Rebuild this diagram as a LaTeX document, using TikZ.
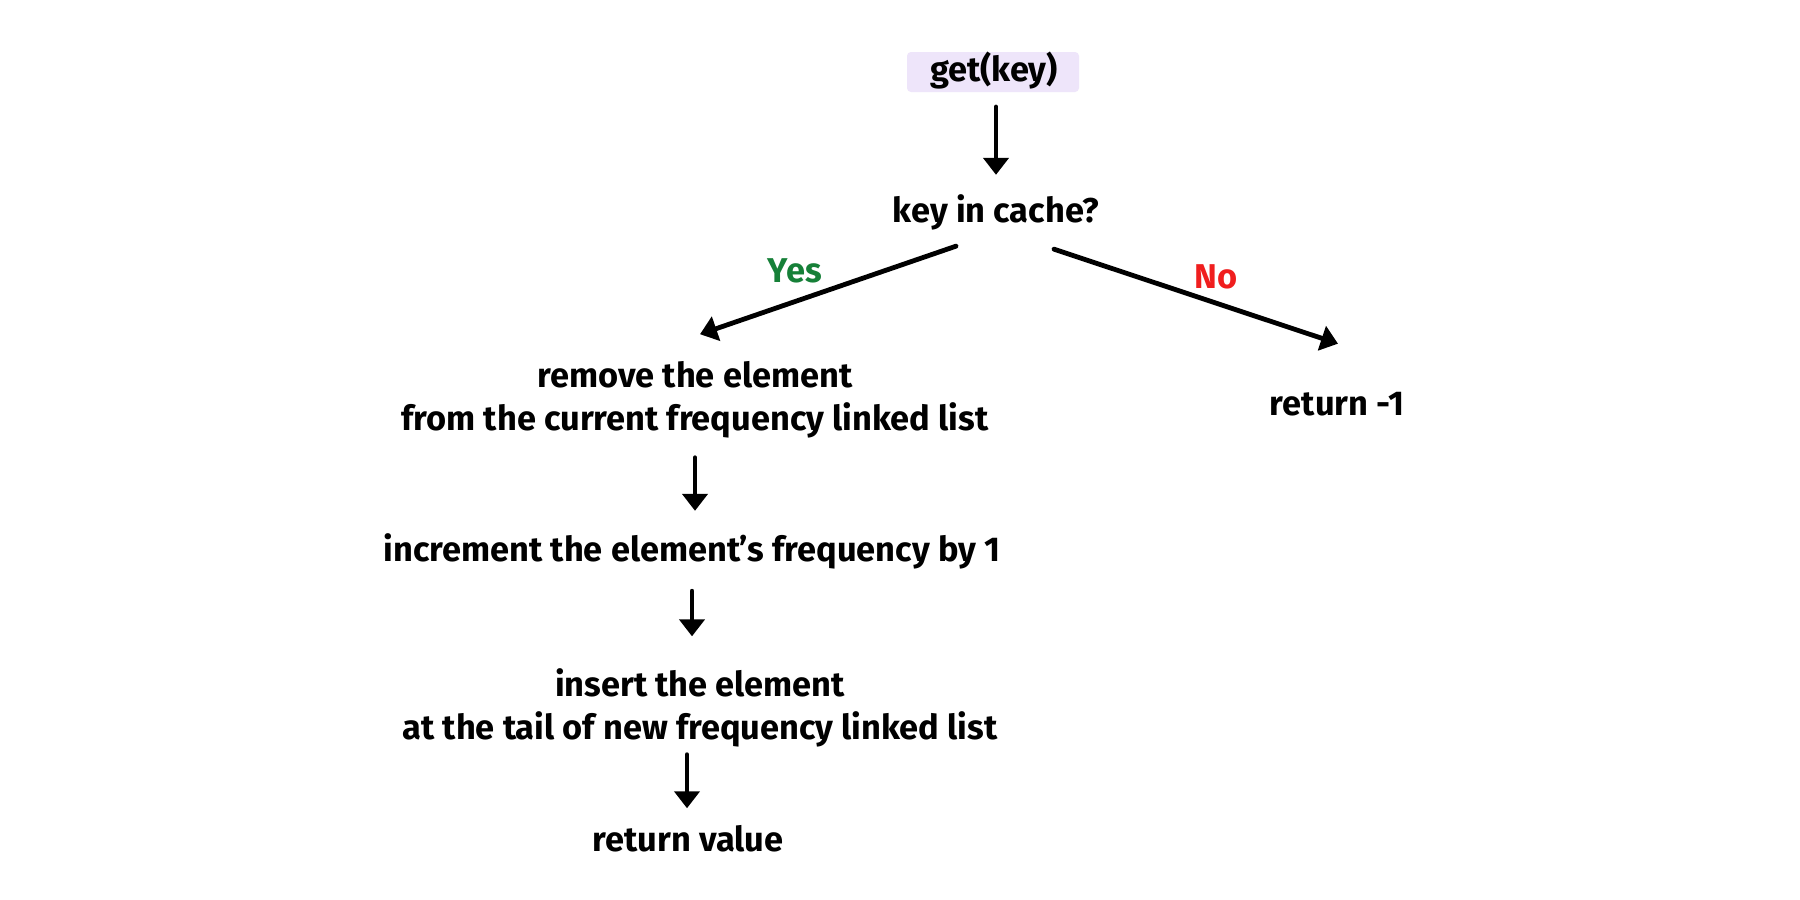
\documentclass[tikz,border=0pt]{standalone}
\usepackage{fontspec}
\setmainfont{Fira Sans}
\usetikzlibrary{arrows.meta}
\definecolor{getbg}{RGB}{238,229,250}
\definecolor{yesgreen}{RGB}{22,128,56}
\definecolor{nored}{RGB}{240,30,30}
\tikzset{
  lbl/.style={font=\fontsize{17.2}{21.5}\selectfont\bfseries, inner sep=0pt, align=center, text=black},
  arr/.style={line width=2.4pt, line cap=round, -{Triangle[width=12.5pt,length=8.5pt]}},
}
\begin{document}
\begin{tikzpicture}[x=0.5pt,y=-0.5pt]
\useasboundingbox[fill=white] (0,0) rectangle (1800,900);
\fill[getbg, rounded corners=2pt] (907,52) rectangle (1079,92);
\node[lbl] (get) at (994,71) {get(key)};
\node[lbl] (kic) at (996,212) {key in cache?};
\node[lbl] (rem) at (695,400) {remove the element\\from the current frequency linked list};
\node[lbl] (ret1) at (1337,404) {return -1};
\node[lbl] (inc) at (692,551) {increment the element's frequency by 1};
\node[lbl] (ins) at (700,708) {insert the element\\at the tail of new frequency linked list};
\node[lbl] (retv) at (688,839) {return value};
\draw[arr] ([shift={(2,17)}]get.south) -- ([shift={(0,-19)}]kic.north);
\draw[arr] ([shift={(-40,16)}]kic.south) -- node[pos=0.63, above=8pt, lbl, text=yesgreen] (yes) {Yes} ([shift={(5,-27)}]rem.north);
\draw[arr] ([shift={(58,19)}]kic.south) -- node[pos=0.57, above=6pt, lbl, text=nored] (no) {No} ([shift={(1,-48)}]ret1.north);
\draw[arr] ([shift={(0,19)}]rem.south) -- ([shift={(3,-22)}]inc.north);
\draw[arr] ([shift={(0,22)}]inc.south) -- ([shift={(-8,-32)}]ins.north);
\draw[arr] ([shift={(-13,7)}]ins.south) -- ([shift={(-1,-17)}]retv.north);
\end{tikzpicture}
\end{document}
